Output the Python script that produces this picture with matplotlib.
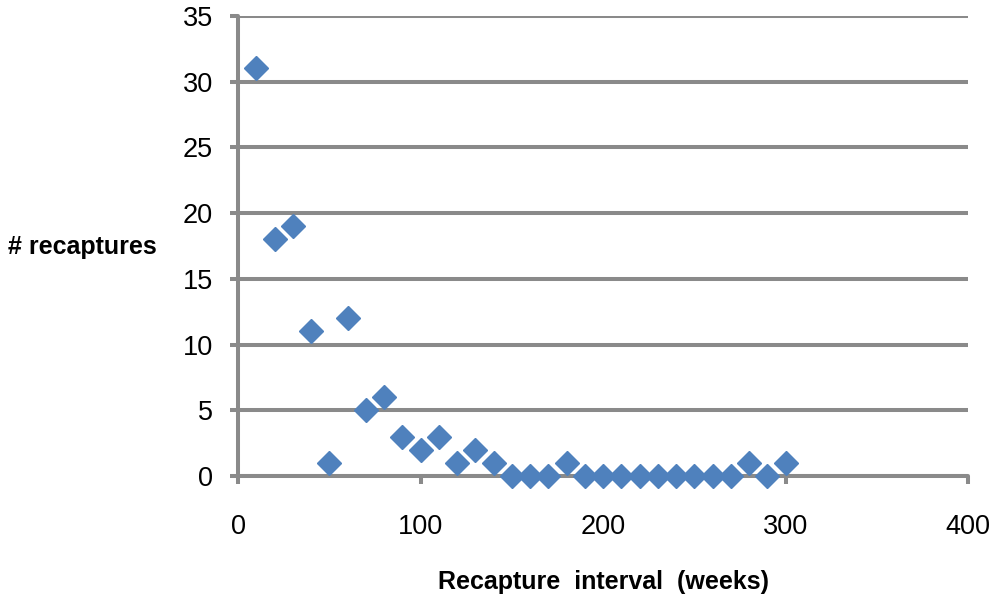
import matplotlib.pyplot as plt

# donnees
interval = [10, 20, 30, 40, 50, 60, 70, 80, 90, 100, 110, 120, 130, 140, 150,
            160, 170, 180, 190, 200, 210, 220, 230, 240, 250, 260, 270, 280, 290, 300]
recaptures = [31, 18, 19, 11, 1, 12, 5, 6, 3, 2, 3, 1, 2, 1, 0,
              0, 0, 1, 0, 0, 0, 0, 0, 0, 0, 0, 0, 1, 0, 1]
xticks = [0, 100, 200, 300, 400]
yticks = [0, 5, 10, 15, 20, 25, 30, 35]

plt.rcParams['font.family'] = ['Liberation Sans', 'DejaVu Sans']
grey = '#8a8a8a'

fig = plt.figure(figsize=(9.96, 6.08), dpi=100)
ax = fig.add_axes([0.239, 0.217, 0.733, 0.757])

ax.plot(interval, recaptures, 'D', color='#4f81bd', ms=12, mec='#4f81bd', clip_on=False, zorder=5)

ax.set_xlim(0, 400)
ax.set_ylim(0, 35)
ax.set_xticks(xticks)
ax.set_yticks(yticks)
ax.yaxis.grid(True, color=grey, lw=2.9, solid_capstyle='round')
ax.set_axisbelow(True)

for s in ['top', 'right']:
    ax.spines[s].set_visible(False)
for s in ['left', 'bottom']:
    ax.spines[s].set_color(grey)
    ax.spines[s].set_linewidth(2.9)
    ax.spines[s].set_capstyle('round')

ax.tick_params(axis='both', colors=grey, width=2.9, length=6, labelcolor='black', labelsize=19.5)
ax.tick_params(axis='x', pad=21)
ax.tick_params(axis='y', pad=12)

ax.set_xlabel('Recapture  interval  (weeks)', fontsize=18, fontweight='bold', labelpad=22)
ax.set_ylabel('# recaptures', fontsize=18, fontweight='bold', rotation=0, ha='left', va='center')
ax.yaxis.set_label_coords(-0.315, 0.498)

fig.savefig('out.png', dpi=100)
